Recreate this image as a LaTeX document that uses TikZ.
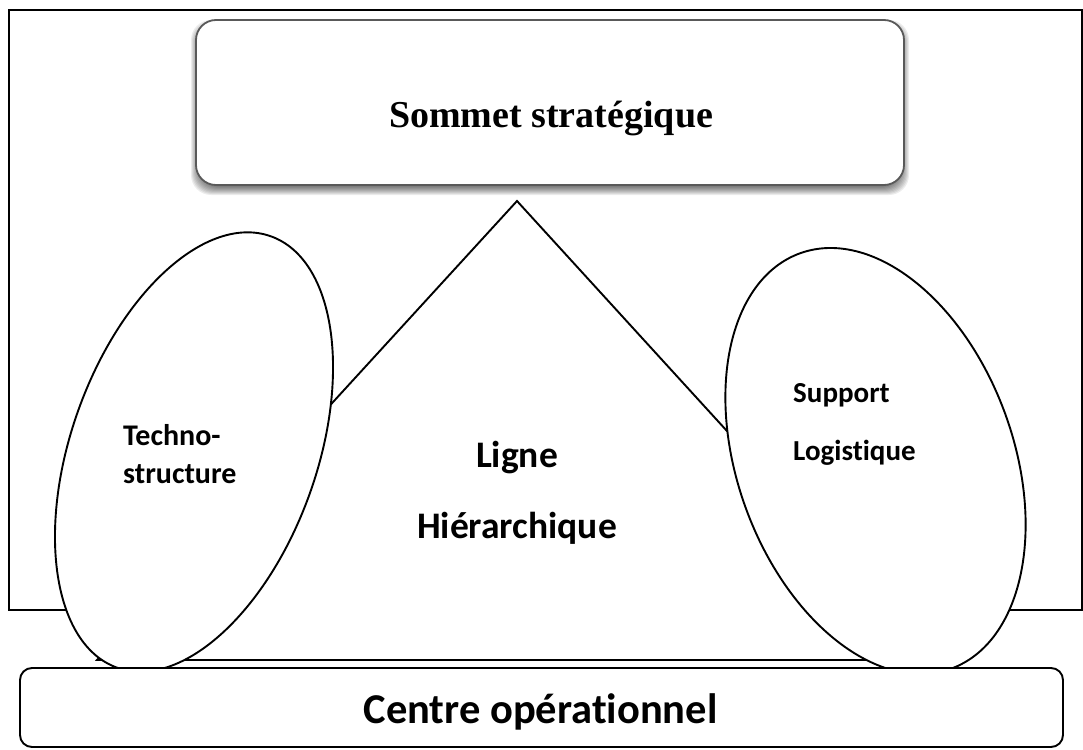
\documentclass[tikz,border=0pt]{standalone}
\usepackage{fontspec}
\setmainfont{Liberation Serif}
\newfontfamily\calibri[Ligatures={NoCommon,NoContextual}]{Carlito}
\usetikzlibrary{shapes.geometric}
\tikzset{
  frame/.style={draw=black, line width=2.4pt},
  shape line/.style={draw=black, line width=1.9pt, fill=white},
  part/.style={ellipse, draw=black, line width=1.9pt, fill=white, inner sep=0pt},
  topbox/.style={draw=black!65, line width=1.8pt, fill=white, rounded corners=20pt},
  botbox/.style={draw=black, line width=1.9pt, fill=white, rounded corners=12pt},
  lbl/.style={font=\calibri\bfseries, inner sep=0pt},
}
\begin{document}
\begin{tikzpicture}[x=1pt,y=-1pt]
\useasboundingbox (0,0) rectangle (1083,749);
% outer frame
\draw[frame] (9,10) -- (1082,10) -- (1082,610) -- (9,610) -- cycle;
% triangle (ligne hierarchique)
\coordinate (apex) at (517,201);
\coordinate (bl) at (97,660);
\coordinate (br) at (936,660);
\draw[shape line, line join=miter] (apex) -- (bl) -- (br) -- cycle;
% ellipses
\node[part, minimum width=246pt, minimum height=458pt, rotate=-19.6] (techno) at (194,452) {};
\node[part, minimum width=276pt, minimum height=442pt, rotate=20] (support) at (875.5,461) {};
% top box with shadow
\foreach \e in {-4,...,5}{
  \fill[black, opacity=0.075, rounded corners=20pt] (196-\e,25-\e) rectangle (904+\e,190+\e);
}
\draw[topbox] (196,20) rectangle (904,185);
\node[inner sep=0pt, anchor=base, font=\bfseries\fontsize{38}{40}\selectfont] (sommet) at (551,128) {Sommet stratégique};
% bottom box
\draw[botbox] (20,668) rectangle (1063,747);
\node[lbl, anchor=base, font=\calibri\bfseries\fontsize{42.5}{44}\selectfont] (centre) at (540.5,723) {Centre opérationnel};
% labels
\node[lbl, anchor=base, font=\calibri\bfseries\fontsize{37.5}{39}\selectfont] (ligne) at (517,467) {Ligne};
\node[lbl, anchor=base, font=\calibri\bfseries\fontsize{37.5}{39}\selectfont] (hier) at (517,538) {Hiérarchique};
\node[lbl, anchor=base west, font=\calibri\bfseries\fontsize{29}{31}\selectfont] (sup) at (793,402) {Support};
\node[lbl, anchor=base west, font=\calibri\bfseries\fontsize{29}{31}\selectfont] (logi) at (793,460) {Logistique};
\node[lbl, anchor=base west, font=\calibri\bfseries\fontsize{30}{32}\selectfont] (tech) at (123,445) {Techno-};
\node[lbl, anchor=base west, font=\calibri\bfseries\fontsize{30}{32}\selectfont] (struct) at (123,483) {structure};
\end{tikzpicture}
\end{document}
